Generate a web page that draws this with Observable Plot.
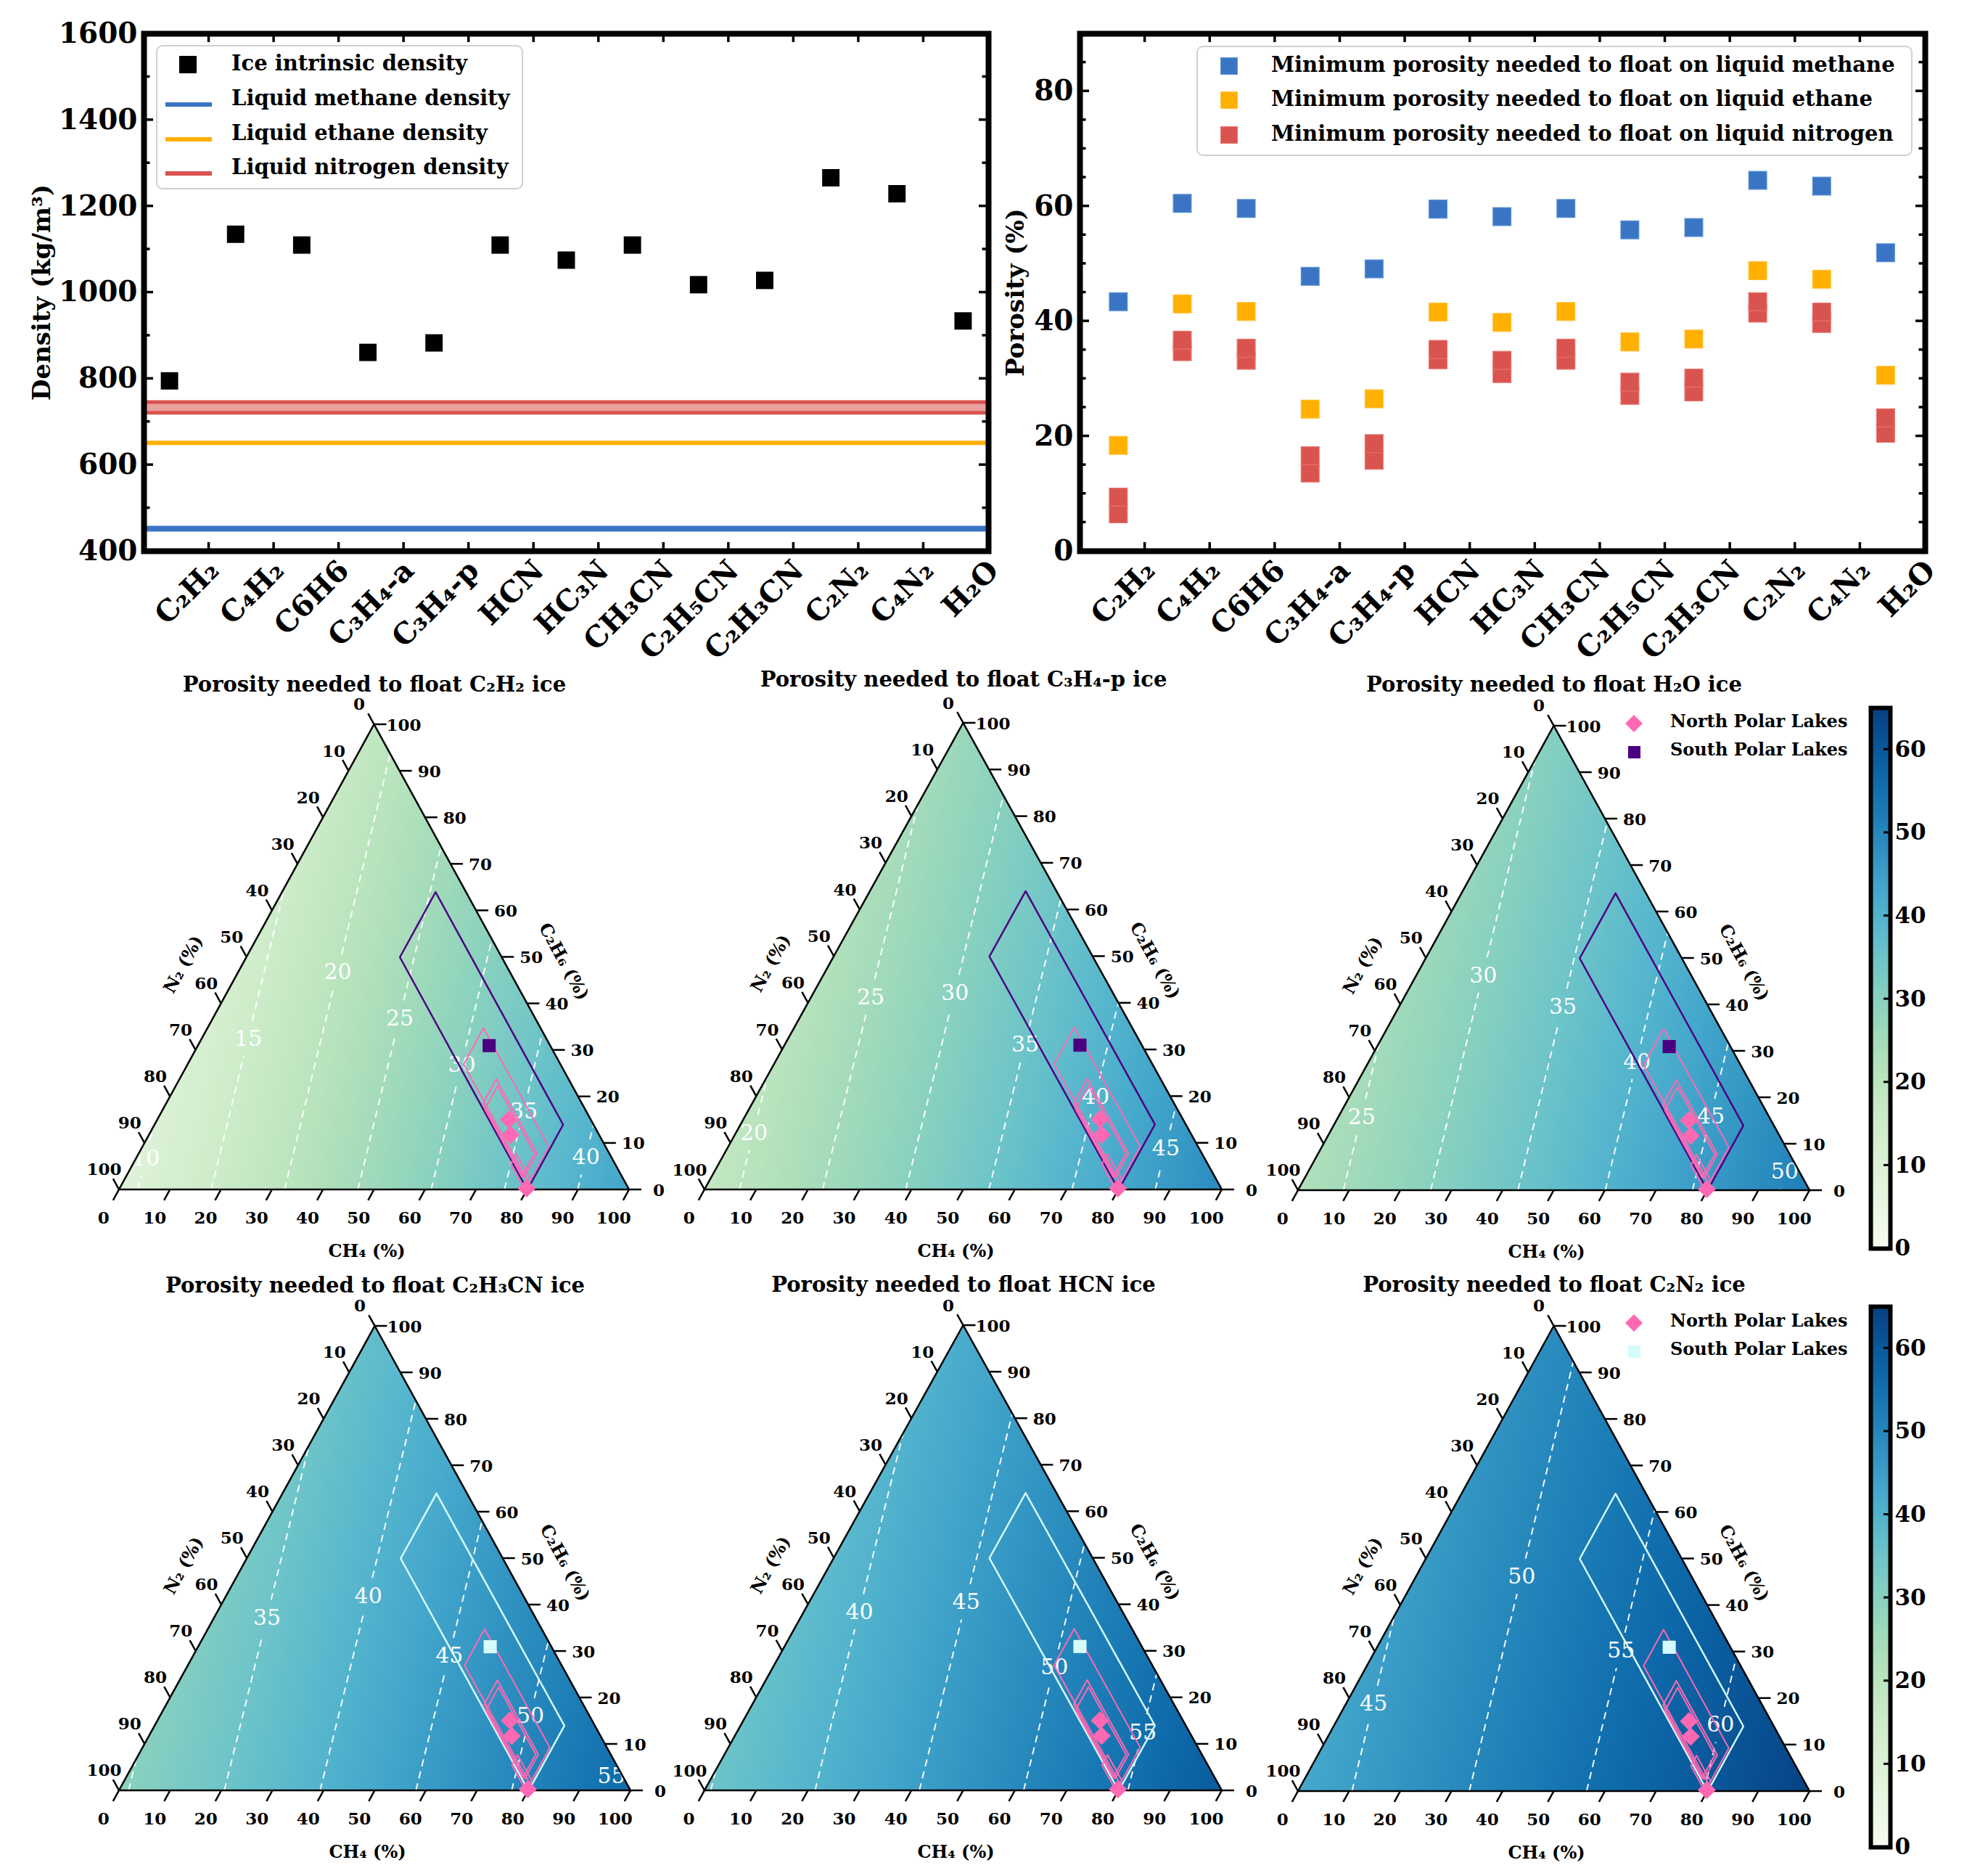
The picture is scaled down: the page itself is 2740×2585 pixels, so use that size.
<!DOCTYPE html>
<html>
<head>
<meta charset="utf-8">
<script src="https://cdn.jsdelivr.net/npm/d3@7"></script>
<script src="https://cdn.jsdelivr.net/npm/@observablehq/plot@0.6"></script>
<style>
html,body{margin:0;padding:0;background:#fff;}
#root{position:relative;width:2740px;height:2585px;overflow:hidden;background:#fff;font-family:"DejaVu Serif",serif;}
.lg{position:absolute;font-family:"DejaVu Serif",serif;font-weight:bold;white-space:nowrap;color:#000;line-height:1;}
.box{position:absolute;border:2px solid #d0d0d0;border-radius:9px;background:rgba(255,255,255,0.85);box-sizing:border-box;}
.sw{position:absolute;}
</style>
</head>
<body>
<div id="root"></div>
<script>
// ---------------- data ----------------
const categories = ["C₂H₂","C₄H₂","C6H6","C₃H₄-a","C₃H₄-p","HCN","HC₃N","CH₃CN","C₂H₅CN","C₂H₃CN","C₂N₂","C₄N₂","H₂O"];
const iceDensity = [795,1135,1110,861,883,1110,1075,1110,1018,1028,1266,1229,934];
const methaneDensity = 452;
const ethaneDensity = 651;
const nitrogenDensityRange = [721, 746];
const densityTicks = [400,600,800,1000,1200,1400,1600];
const densityMinorTicks = [500,700,900,1100,1300,1500];

const porosityMethane = [43.4,60.5,59.6,47.8,49.1,59.5,58.2,59.6,55.9,56.3,64.5,63.5,51.9];
const porosityEthane = [18.4,43.0,41.7,24.7,26.5,41.6,39.8,41.7,36.4,36.9,48.8,47.3,30.6];
const porosityNitrogenHigh = [9.4,36.7,35.3,16.6,18.7,35.1,33.2,35.3,29.4,30.1,43.4,41.6,23.2];
const porosityNitrogenLow = [6.5,34.7,33.2,13.6,15.8,33.3,30.9,33.2,27.1,27.7,41.4,39.6,20.5];
const porosityTicks = [0,20,40,60,80];
const porosityMinorTicks = [5,10,15,25,30,35,45,50,55,65,70,75,85];

// ternary panels: porosity (%) at the pure CH4, C2H6 and N2 corners
const ternaryIces = ["C₂H₂","C₃H₄-p","H₂O","C₂H₃CN","HCN","C₂N₂"];
const ternaryCH4 = [43.5,49.0,51.7,56.2,59.5,64.5];
const ternaryC2H6 = [18.4,26.5,30.6,36.9,41.6,48.8];
const ternaryN2 = [8.7,17.9,22.4,29.5,34.7,42.7];
const contourLevels = [5,10,15,20,25,30,35,40,45,50,55,60,65];
const contourLabels = [[10,15,20,25,30,35,40],[20,25,30,35,40,45],[25,30,35,40,45,50],[35,40,45,50,55],[40,45,50,55],[45,50,55,60]];
const ternaryTicks = [0,10,20,30,40,50,60,70,80,90,100];

// lake compositions (%)
const southRegionCH4 = [30, 80];
const southRegionN2 = [6, 20];
const northRegionsCH4 = [[54, 79.5],[62, 78],[63, 77.5],[74, 79.5]];
const northRegionsN2 = [[11.2, 19],[14.2, 19.4],[14.7, 19.7],[18.3, 20.5]];
const northLakeCH4 = [68.8, 70.8, 79.7];
const northLakeC2H6 = [15.1, 11.8, 0.3];
const southLakeCH4 = [57];
const southLakeC2H6 = [31];
const colorbarTicks = [0,10,20,30,40,50,60];
const colorDomain = [0, 65];

// ---------------- style ----------------
const BLUE="#3a75c4", ORANGE="#ffb000", RED="#d9534f", PINK="#ff69b4", INDIGO="#4b0082", CYAN="#d6fbfb";
const FONT = "DejaVu Serif";
const root = document.getElementById("root");
function put(el, left, top){ el.style.position="absolute"; el.style.left=left+"px"; el.style.top=top+"px"; root.appendChild(el); return el; }

function inwardTicks(spec){
  return (index, scales, values, dim) => {
    const L = dim.marginLeft, R = dim.width - dim.marginRight, T = dim.marginTop, B = dim.height - dim.marginBottom;
    const g = d3.create("svg:g").attr("stroke","black").attr("stroke-width", spec.width ?? 3.5);
    for (const [v, len] of (spec.y ?? [])) {
      const yy = scales.y(v);
      for (const side of (spec.ySides ?? ["left","right"])) {
        const x0 = side === "left" ? L : R, s = side === "left" ? 1 : -1;
        g.append("line").attr("x1", x0).attr("x2", x0 + s*len).attr("y1", yy).attr("y2", yy);
      }
    }
    for (const [v, len] of (spec.x ?? [])) {
      const xx = scales.x(v);
      for (const side of (spec.xSides ?? ["top","bottom"])) {
        const y0 = side === "top" ? T : B, s = side === "top" ? 1 : -1;
        g.append("line").attr("y1", y0).attr("y2", y0 + s*len).attr("x1", xx).attr("x2", xx);
      }
    }
    return g.node();
  };
}

const idx = d3.range(categories.length);
const bandEdges = dom => d3.range(1, 14).map(k => dom[0] + k*(dom[1]-dom[0])/13);

// ---------------- top-left: densities ----------------
const xDomD = [-0.385, 12.385];
const edgesD = bandEdges(xDomD);
const densityPlot = Plot.plot({
  width: 1400, height: 900, marginLeft: 198, marginRight: 38, marginTop: 46, marginBottom: 141,
  x: {domain: xDomD, axis: null},
  y: {domain: [400, 1600], axis: null},
  style: {background: "transparent", fontFamily: FONT, overflow: "visible"},
  marks: [
    Plot.rect([nitrogenDensityRange], {x1: () => xDomD[0], x2: () => xDomD[1], y1: d => d[0], y2: d => d[1], fill: RED, fillOpacity: 0.55}),
    Plot.ruleY(nitrogenDensityRange, {stroke: RED, strokeWidth: 5}),
    Plot.ruleY([ethaneDensity], {stroke: ORANGE, strokeWidth: 6}),
    Plot.ruleY([methaneDensity], {stroke: BLUE, strokeWidth: 8}),
    Plot.dot(idx, {x: i => i, y: i => iceDensity[i], symbol: "square", r: 13.5, fill: "black"}),
    Plot.frame({stroke: "black", strokeWidth: 8}),
    inwardTicks({y: [...densityTicks.map(v => [v, 13]), ...densityMinorTicks.map(v => [v, 8.5])], x: edgesD.slice(0, 12).map(v => [v, 12])}),
    Plot.text(densityTicks, {y: d => d, text: d => String(d), frameAnchor: "left", textAnchor: "end", dx: -9, fontSize: 39, fontWeight: "bold"}),
    Plot.text(idx, {x: i => edgesD[i], text: i => categories[i], frameAnchor: "bottom", rotate: -45, textAnchor: "end", lineAnchor: "top", dy: 9, dx: -4, fontSize: 40, fontWeight: "bold"}),
    Plot.text(["Density (kg/m³)"], {text: d => d, frameAnchor: "left", textAnchor: "middle", rotate: -90, dx: -140, fontSize: 34, fontWeight: "bold"})
  ]
});
put(densityPlot, 0, 0);

// ---------------- top-right: porosity ----------------
const xDomP = [-0.6, 12.62];
const edgesP = bandEdges(xDomP);
const sq = (ys, fill, stroke) => Plot.dot(idx, {x: i => i, y: i => ys[i], symbol: "square", r: 14, fill, stroke, strokeWidth: 1.2});
const porosityPlot = Plot.plot({
  width: 1440, height: 900, marginLeft: 188, marginRight: 87, marginTop: 46, marginBottom: 141,
  x: {domain: xDomP, axis: null},
  y: {domain: [0, 90], axis: null},
  style: {background: "transparent", fontFamily: FONT, overflow: "visible"},
  marks: [
    sq(porosityNitrogenLow, RED, "#e6726e"),
    sq(porosityNitrogenHigh, RED, "#e6726e"),
    sq(porosityEthane, ORANGE, "#ffc033"),
    sq(porosityMethane, BLUE, "#5a90d8"),
    Plot.frame({stroke: "black", strokeWidth: 8}),
    inwardTicks({y: [...porosityTicks.map(v => [v, 13]), ...porosityMinorTicks.map(v => [v, 8.5])], x: edgesP.slice(0, 12).map(v => [v, 12])}),
    Plot.text(porosityTicks, {y: d => d, text: d => String(d), frameAnchor: "left", textAnchor: "end", dx: -9, fontSize: 39, fontWeight: "bold"}),
    Plot.text(idx, {x: i => edgesP[i], text: i => categories[i], frameAnchor: "bottom", rotate: -45, textAnchor: "end", lineAnchor: "top", dy: 9, dx: -4, fontSize: 40, fontWeight: "bold"}),
    Plot.text(["Porosity (%)"], {text: d => d, frameAnchor: "left", textAnchor: "middle", rotate: -90, dx: -88, fontSize: 34, fontWeight: "bold"})
  ]
});
put(porosityPlot, 1300, 0);

// ---------------- legends (top) ----------------
function box(l, t, w, h){ const d = document.createElement("div"); d.className = "box"; put(d, l, t); d.style.width = w+"px"; d.style.height = h+"px"; }
function label(text, left, cy, size){ const d = document.createElement("div"); d.className = "lg"; d.textContent = text; d.style.fontSize = size+"px"; put(d, left, cy - size*0.55); return d; }
function swatch(svg, cx, cy, w, h){ const d = document.createElement("div"); d.className = "sw"; d.innerHTML = svg; put(d, cx - w/2, cy - h/2); }
const sqSvg = (c, s, e) => `<svg width="${s}" height="${s}"><rect x="0.6" y="0.6" width="${s-1.2}" height="${s-1.2}" fill="${c}" stroke="${e||c}" stroke-width="1.2"/></svg>`;
const lineSvg = c => `<svg width="64" height="8"><rect x="0" y="1" width="64" height="6" fill="${c}"/></svg>`;

box(215, 62, 506, 199);
swatch(sqSvg("black", 24), 259, 89, 24, 24); label("Ice intrinsic density", 319, 89, 29);
swatch(lineSvg(BLUE), 260, 137, 64, 8); label("Liquid methane density", 319, 137, 29);
swatch(lineSvg(ORANGE), 260, 185, 64, 8); label("Liquid ethane density", 319, 185, 29);
swatch(lineSvg(RED), 260, 232, 64, 8); label("Liquid nitrogen density", 319, 232, 29);

box(1649, 63, 987, 152);
swatch(sqSvg(BLUE, 24, "#5a90d8"), 1694, 91, 24, 24); label("Minimum porosity needed to float on liquid methane", 1752, 91, 29);
swatch(sqSvg(ORANGE, 24, "#ffc033"), 1694, 138, 24, 24); label("Minimum porosity needed to float on liquid ethane", 1752, 138, 29);
swatch(sqSvg(RED, 24, "#e6726e"), 1694, 186, 24, 24); label("Minimum porosity needed to float on liquid nitrogen", 1752, 186, 29);

// ---------------- ternary panels ----------------
function contourSegments(k){
  const V = [[0, 0, ternaryN2[k]], [1, 0, ternaryCH4[k]], [0.5, 1, ternaryC2H6[k]]];
  const segs = [];
  for (const t of contourLevels) {
    const pts = [];
    for (let e = 0; e < 3; e++) {
      const P = V[e], Q = V[(e+1)%3];
      if ((t - P[2]) * (t - Q[2]) < 0) {
        const f = (t - P[2]) / (Q[2] - P[2]);
        pts.push([P[0] + f*(Q[0]-P[0]), P[1] + f*(Q[1]-P[1])]);
      }
    }
    if (pts.length === 2) segs.push({t, x1: pts[0][0], y1: pts[0][1], x2: pts[1][0], y2: pts[1][1],
      mx: (pts[0][0]+pts[1][0])/2, my: (pts[0][1]+pts[1][1])/2, labeled: contourLabels[k].includes(t)});
  }
  return segs;
}

function contourLines(segs){
  return (index, scales) => {
    const x = scales.x, y = scales.y;
    const g = d3.create("svg:g").attr("fill","none").attr("stroke","white").attr("stroke-width",2).attr("stroke-dasharray","10,7").attr("stroke-opacity",0.95);
    const add = (a, b) => g.append("line").attr("x1",a[0]).attr("y1",a[1]).attr("x2",b[0]).attr("y2",b[1]);
    for (const s of segs) {
      const p1 = [x(s.x1), y(s.y1)], p2 = [x(s.x2), y(s.y2)];
      if (!s.labeled) { add(p1, p2); continue; }
      const len = Math.hypot(p2[0]-p1[0], p2[1]-p1[1]);
      const u = [(p2[0]-p1[0])/len, (p2[1]-p1[1])/len];
      const m = [(p1[0]+p2[0])/2, (p1[1]+p2[1])/2], gap = 25;
      if (len/2 > gap) { add(p1, [m[0]-u[0]*gap, m[1]-u[1]*gap]); add([m[0]+u[0]*gap, m[1]+u[1]*gap], p2); }
    }
    return g.node();
  };
}

function ternaryAxes(){
  return (index, scales) => {
    const X = scales.x, Y = scales.y;
    const P = (a, b) => [X(a + b/2), Y(b)];
    const L = P(0,0), R = P(1,0), T = P(0,1);
    const unit = (p, q) => { const dx = q[0]-p[0], dy = q[1]-p[1], l = Math.hypot(dx, dy); return [dx/l, dy/l]; };
    const dB = unit(T, L), dL = unit(R, T);
    const g = d3.create("svg:g");
    const lines = g.append("g").attr("stroke","black").attr("stroke-width",2.5);
    const texts = g.append("g").attr("font-family",FONT).attr("font-weight","bold").attr("font-size",23).attr("text-anchor","middle").attr("dominant-baseline","central");
    const TL = 17;
    const seg = (p, d) => lines.append("line").attr("x1",p[0]).attr("y1",p[1]).attr("x2",p[0]+d[0]*TL).attr("y2",p[1]+d[1]*TL);
    for (const v of ternaryTicks) {
      const f = v/100;
      let p = P(f, 0); seg(p, dB);
      texts.append("text").attr("x", p[0]+dB[0]*44).attr("y", p[1]+dB[1]*44).text(v);
      p = P(0, 1-f); seg(p, dL);
      texts.append("text").attr("x", p[0]+dL[0]*32-5).attr("y", p[1]+dL[1]*32).text(v);
      p = P(1-f, f); seg(p, [1,0]);
      texts.append("text").attr("x", p[0]+41).attr("y", p[1]).text(v);
    }
    g.append("path").attr("d", `M${L}L${R}L${T}Z`).attr("fill","none").attr("stroke","black").attr("stroke-width",2.5).attr("stroke-linejoin","miter");
    const titles = g.append("g").attr("font-family",FONT).attr("font-weight","bold").attr("font-size",24).attr("text-anchor","middle").attr("dominant-baseline","central");
    const bm = P(0.5, 0);
    titles.append("text").attr("x", bm[0]-10).attr("y", bm[1]+84).text("CH₄ (%)");
    const eUp = unit(L, T), lm = P(0, 0.5), nL = [eUp[1], -eUp[0]];
    const lp = [lm[0] + nL[0]*72 - eUp[0]*51, lm[1] + nL[1]*72 - eUp[1]*51];
    titles.append("text").attr("transform", `translate(${lp}) rotate(${Math.atan2(eUp[1], eUp[0])*180/Math.PI})`).text("N₂ (%)");
    const eDn = unit(T, R), rm = P(0.5, 0.5), nR = [eDn[1], -eDn[0]];
    const rp = [rm[0] + nR[0]*73 + eDn[0]*47, rm[1] + nR[1]*73 + eDn[1]*47];
    titles.append("text").attr("transform", `translate(${rp}) rotate(${Math.atan2(eDn[1], eDn[0])*180/Math.PI})`).text("C₂H₆ (%)");
    return g.node();
  };
}

const toXY = (ch4, c2h6) => ({X: ch4/100 + c2h6/200, Y: c2h6/100});
function quad(cr, nr, id){
  const pts = [[cr[0], nr[0]], [cr[1], nr[0]], [cr[1], nr[1]], [cr[0], nr[1]], [cr[0], nr[0]]];
  return pts.map(([c, n]) => ({id, ...toXY(c, 100 - c - n)}));
}

function ternaryPlot(p){
  const k = p.k;
  const mL = 170, mR = 170, mT = 130, mB = 130;
  const vA = ternaryCH4[k], vB = ternaryC2H6[k], vN = ternaryN2[k];
  const field = (X, Y) => {
    const b = Y, a = X - Y/2, n = 1 - a - b;
    if (a < -1e-9 || b < -1e-9 || n < -1e-9) return NaN;
    return a*vA + b*vB + n*vN;
  };
  const segs = contourSegments(k);
  const southColor = k >= 3 ? CYAN : INDIGO;
  const southPoly = quad(southRegionCH4, southRegionN2, "s");
  const northPolys = northRegionsCH4.flatMap((cr, i) => quad(cr, northRegionsN2[i], "n"+i));
  const north = northLakeCH4.map((c, i) => toXY(c, northLakeC2H6[i]));
  const south = southLakeCH4.map((c, i) => toXY(c, southLakeC2H6[i]));
  const svg = Plot.plot({
    width: mL + (p.Rx - p.Lx) + mR, height: mT + (p.bottom - p.top) + mB,
    marginLeft: mL, marginRight: mR, marginTop: mT, marginBottom: mB,
    x: {domain: [0, 1], axis: null},
    y: {domain: [0, 1], axis: null},
    color: {type: "linear", scheme: "GnBu", domain: colorDomain},
    style: {background: "transparent", fontFamily: FONT, overflow: "visible"},
    marks: [
      Plot.raster({fill: field, x1: 0, x2: 1, y1: 0, y2: 1}),
      contourLines(segs),
      Plot.text(segs.filter(s => s.labeled), {x: "mx", y: "my", text: s => String(s.t), fill: "white", fontSize: 30, fontFamily: FONT}),
      Plot.line(southPoly, {x: "X", y: "Y", z: "id", stroke: southColor, strokeWidth: 2.5}),
      Plot.line(northPolys, {x: "X", y: "Y", z: "id", stroke: PINK, strokeWidth: 2}),
      ternaryAxes(),
      Plot.dot(south, {x: "X", y: "Y", symbol: "square", r: 10.2, fill: southColor}),
      Plot.dot(north, {x: "X", y: "Y", symbol: "diamond2", r: 11.3, fill: PINK}),
      Plot.text([ternaryIces[k]], {x: () => 0.5, frameAnchor: "top", dy: p.titleDy, text: d => `Porosity needed to float ${d} ice`, fontSize: 29, fontWeight: "bold"})
    ]
  });
  put(svg, p.Lx - mL, p.top - mT);
}

const panels = [
  {k:0, Lx:164, Rx:867, top:998, bottom:1639, titleDy:-66},
  {k:1, Lx:971, Rx:1684, top:996, bottom:1639, titleDy:-71},
  {k:2, Lx:1789, Rx:2494, top:1000, bottom:1640, titleDy:-68},
  {k:3, Lx:164, Rx:869, top:1827, bottom:2467, titleDy:-67},
  {k:4, Lx:971, Rx:1684, top:1826, bottom:2467, titleDy:-67},
  {k:5, Lx:1789, Rx:2494, top:1827, bottom:2468, titleDy:-68}
];
panels.forEach(ternaryPlot);

// ---------------- polar lake legends ----------------
const diaSvg = `<svg width="26" height="26"><path d="M13,1L25,13L13,25L1,13Z" fill="${PINK}"/></svg>`;
function polarLegend(cy, sqColor){
  swatch(diaSvg, 2252, cy, 26, 26); label("North Polar Lakes", 2302, cy - 2, 24);
  swatch(sqSvg(sqColor, 17), 2252, cy + 39, 17, 17); label("South Polar Lakes", 2302, cy + 37, 24);
}
polarLegend(997, INDIGO);
polarLegend(1823, CYAN);

// ---------------- colorbars ----------------
function colorbar(top){
  const svg = Plot.plot({
    width: 140, height: 820, marginLeft: 20, marginRight: 93, marginTop: 40, marginBottom: 35,
    x: {domain: [0, 1], axis: null},
    y: {domain: colorDomain, axis: null},
    color: {type: "linear", scheme: "GnBu", domain: colorDomain},
    style: {background: "transparent", fontFamily: FONT, overflow: "visible"},
    marks: [
      Plot.raster({fill: (x, y) => y, x1: 0, x2: 1, y1: colorDomain[0], y2: colorDomain[1]}),
      Plot.frame({stroke: "black", strokeWidth: 6}),
      inwardTicks({y: colorbarTicks.map(v => [v, 9]), ySides: ["right"], width: 3}),
      Plot.text(colorbarTicks, {y: d => d, text: d => String(d), frameAnchor: "right", textAnchor: "start", dx: 6, fontSize: 31, fontWeight: "bold"})
    ]
  });
  put(svg, 2558, top - 40);
}
colorbar(975);
colorbar(1800);
</script>
</body>
</html>
